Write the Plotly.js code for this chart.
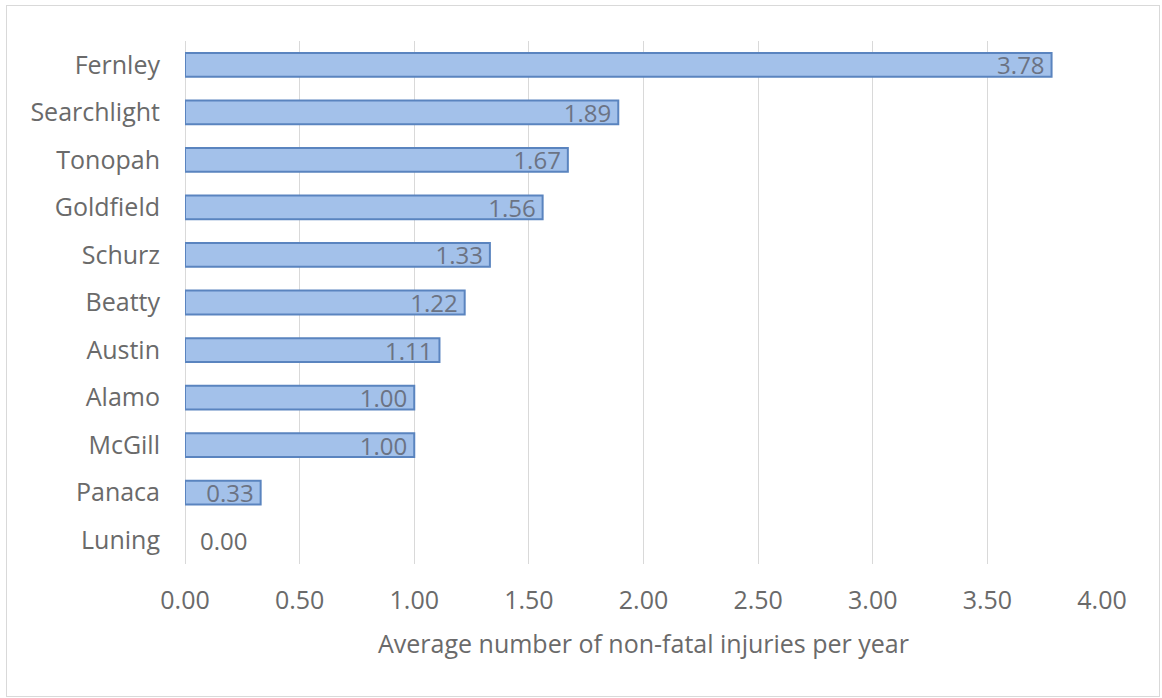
<!DOCTYPE html>
<html><head><meta charset="utf-8">
<script src="https://cdn.plot.ly/plotly-3.0.1.min.js"></script>
<style>
html,body{margin:0;padding:0;background:#fff;}
#wrap{position:relative;width:1162px;height:698px;}
#chart{width:1162px;height:698px;}
#frame{position:absolute;left:6px;top:5px;width:1152px;height:690px;border:1px solid #d9d9d9;pointer-events:none;}
</style></head>
<body><div id="wrap"><div id="chart"></div><div id="frame"></div></div>
<script>
const towns = ["Fernley","Searchlight","Tonopah","Goldfield","Schurz","Beatty","Austin","Alamo","McGill","Panaca","Luning"];
const injuries = [3.78,1.89,1.67,1.56,1.33,1.22,1.11,1.00,1.00,0.33,0.00];
const tickVals = [0,0.5,1,1.5,2,2.5,3,3.5,4];
const tickText = ["0.00","0.50","1.00","1.50","2.00","2.50","3.00","3.50","4.00"];
const axisTitle = "Average number of non-fatal injuries per year";

const font = "'Open Sans', Lato, sans-serif";
const grey = "#6a6a6a";
const trace = {
  type: "bar", orientation: "h",
  y: towns, x: injuries,
  text: injuries.map(v => v > 0 ? v.toFixed(2) + "\u2009" : "\u2002" + v.toFixed(2)),
  textposition: injuries.map(v => v > 0 ? "inside" : "outside"),
  insidetextanchor: "end",
  textfont: {family: font, size: 24, color: "#6b7384"},
  outsidetextfont: {family: font, size: 24, color: grey},
  constraintext: "none",
  cliponaxis: false,
  marker: {color: "#a3c1ea", line: {color: "#5a84bf", width: injuries.map(v => v > 0 ? 2 : 0)}},
  width: 0.5,
  hoverinfo: "skip"
};
const layout = {
  width: 1162, height: 698,
  margin: {l: 185, r: 60, t: 41, b: 134},
  paper_bgcolor: "#ffffff", plot_bgcolor: "#ffffff",
  showlegend: false,
  font: {family: font, color: grey, size: 24},
  xaxis: {
    range: [0, 4], tickvals: tickVals, ticktext: tickText,
    showgrid: true, gridcolor: "#d9d9d9", gridwidth: 1,
    zeroline: true, zerolinecolor: "#d9d9d9", zerolinewidth: 1,
    showline: false, ticks: "",
    tickfont: {family: font, size: 25, color: grey},
    ticklabelstandoff: 19,
    title: {text: axisTitle, font: {family: font, size: 25, color: grey}, standoff: 20},
    fixedrange: true
  },
  yaxis: {
    categoryorder: "array", categoryarray: towns, autorange: "reversed",
    showgrid: false, zeroline: false, showline: false, ticks: "",
    tickfont: {family: font, size: 25, color: grey},
    ticklabelstandoff: 24,
    fixedrange: true
  },
  bargap: 0.5
};
Plotly.newPlot("chart", [trace], layout, {displayModeBar: false, staticPlot: true});
</script></body></html>
